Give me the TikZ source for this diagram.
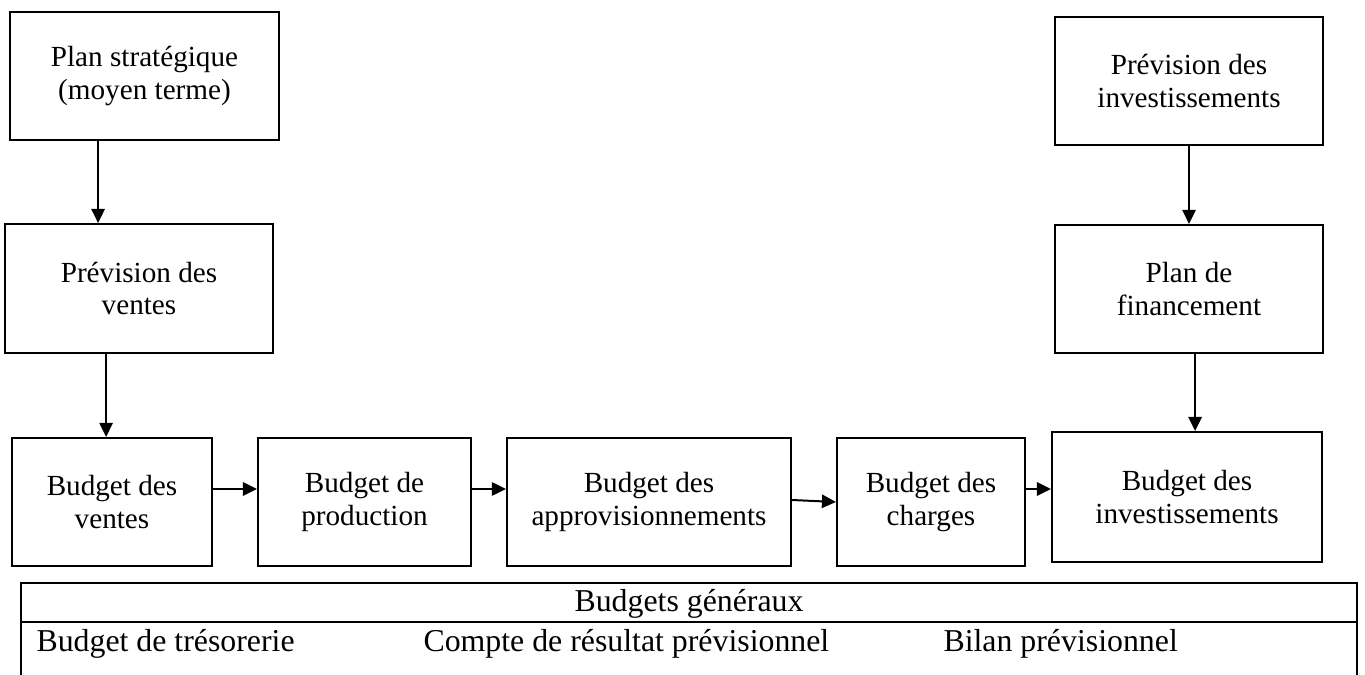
\documentclass[tikz,border=0pt]{standalone}
\usepackage{fontspec}
\setmainfont{Liberation Serif}
\usetikzlibrary{arrows.meta}

\begin{document}
\begin{tikzpicture}[%
      x=0.377pt, y=-0.377pt,
      boite/.style={draw, line width=0.75pt, align=center, inner sep=0pt,
        minimum height=48.3pt, font=\fontsize{11}{12.4}\selectfont},
      fleche/.style={line width=0.75pt, -{Triangle[length=5.3pt,width=5pt]}},
      cellule/.style={inner sep=0pt, font=\fontsize{12}{14}\selectfont},
      ]
      \clip (0,0) rectangle (1365,675);

      \node [boite, minimum width=101.4pt] (plan) at (144.5,76) {Plan stratégique\\(moyen terme)};
      \node [boite, minimum width=101.0pt, minimum height=48.6pt] (prevv) at (139,288.5) {Prévision des\\ventes};
      \node [boite, minimum width=75.4pt] (bventes) at (112,502) {Budget des\\ventes};
      \node [boite, minimum width=80.3pt] (bprod) at (364.5,502) {Budget de\\production};
      \node [boite, minimum width=107.1pt] (bappro) at (649,502) {Budget des\\approvisionnements};
      \node [boite, minimum width=70.9pt] (bcharges) at (931,502) {Budget des\\charges};
      \node [boite, minimum width=101.8pt, minimum height=49.0pt] (binv) at (1187,497) {Budget des\\investissements};
      \node [boite, minimum width=101.0pt] (previnv) at (1189,81) {Prévision des\\investissements};
      \node [boite, minimum width=101.0pt] (planfin) at (1189,289) {Plan de\\financement};

      \draw [fleche] ([xshift=-17.5pt]plan.south) -- ([xshift=-17.5pt]plan.south |- prevv.north);
      \draw [fleche] ([xshift=-12.4pt]prevv.south) -- ([xshift=-12.4pt]prevv.south |- bventes.north);
      \draw [fleche] ([yshift=4.9pt]bventes.east) -- ([yshift=4.9pt]bventes.east -| bprod.west);
      \draw [fleche] ([yshift=4.9pt]bprod.east) -- ([yshift=4.9pt]bprod.east -| bappro.west);
      \draw [fleche] ([yshift=0.75pt]bappro.east) -- (bcharges.west);
      \draw [fleche] ([yshift=4.9pt]bcharges.east) -- ([yshift=4.9pt]bcharges.east -| binv.west);
      \draw [fleche] (previnv.south) -- (planfin.north);
      \draw [fleche] ([xshift=2.3pt]planfin.south) -- ([xshift=2.3pt]planfin.south |- binv.north);

      \draw [line width=0.75pt] (21,690) -- (21,583) -- (1357,583) -- (1357,690);
      \draw [line width=0.75pt] (21,622) -- (1357,622);
      \node [cellule, anchor=base] (bgen) at (689,612) {Budgets généraux};
      \node [cellule, anchor=base west] (tres) at (36,652) {Budget de trésorerie};
      \node [cellule, anchor=base west] (cres) at (423,652) {Compte de résultat prévisionnel};
      \node [cellule, anchor=base west] (bilan) at (943,652) {Bilan prévisionnel};
\end{tikzpicture}
\end{document}
